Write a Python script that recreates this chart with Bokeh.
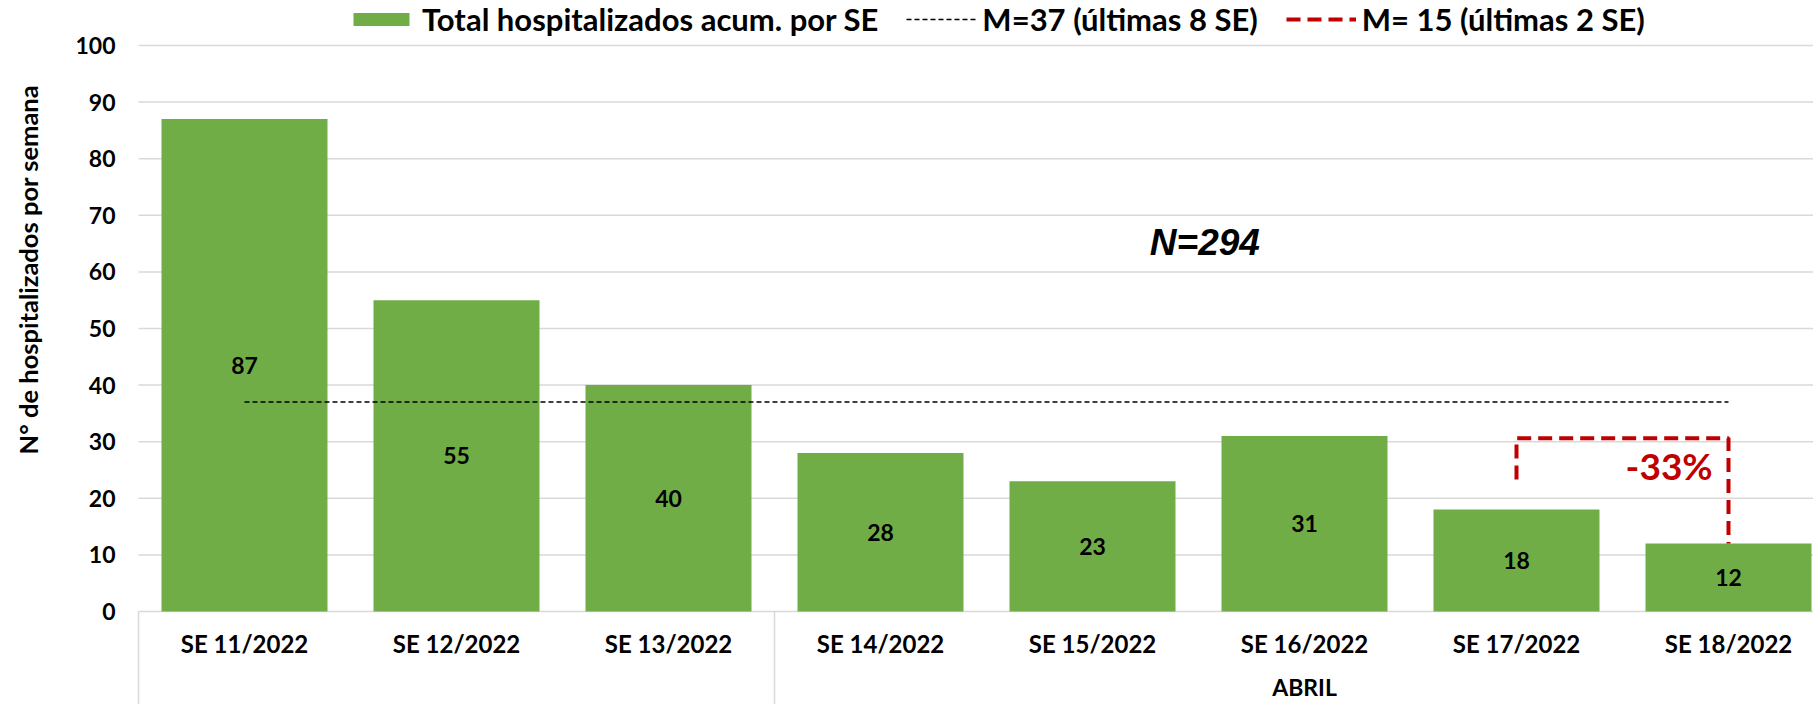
import math
from bokeh.plotting import figure
from bokeh.models import ColumnDataSource, Range1d, Legend, LegendItem
from bokeh.core.properties import value
from bokeh.embed import file_html
from bokeh.resources import INLINE

# ---- data ----
categories = ["SE 11/2022", "SE 12/2022", "SE 13/2022", "SE 14/2022",
              "SE 15/2022", "SE 16/2022", "SE 17/2022", "SE 18/2022"]
hospitalizados = [87, 55, 40, 28, 23, 31, 18, 12]
mean_8 = 37
mean_2 = 15
total_n = 294
change_pct = -33
month_labels = ["", "ABRIL"]
month_start = [0, 3]
month_end = [3, 8]
y_ticks = list(range(0, 101, 10))
y_title = "N° de hospitalizados por semana"

FONT = "Lato"
GREEN = "#70ad47"
RED = "#c00000"
GRID = "#d9d9d9"

W, H = 1813, 704
FRAME_LEFT_PX = 138      # where the value area starts
ZERO_PX = 611            # pixel row of value 0
px_per_cat = 212.0
px_per_unit = 5.66
x_start = -FRAME_LEFT_PX / px_per_cat
x_end = (W - FRAME_LEFT_PX) / px_per_cat
y_start = -(H - ZERO_PX) / px_per_unit
y_end = ZERO_PX / px_per_unit

p = figure(width=W, height=H, output_backend="svg", toolbar_location=None,
           x_range=Range1d(x_start, x_end), y_range=Range1d(y_start, y_end),
           x_axis_location=None, y_axis_location=None,
           min_border=0, min_border_left=0, min_border_right=0,
           min_border_top=0, min_border_bottom=0,
           background_fill_color="white", border_fill_color="white")
p.outline_line_color = None
p.grid.visible = False

# gridlines (value axis)
p.segment(x0=[0] * len(y_ticks), y0=y_ticks, x1=[x_end] * len(y_ticks), y1=y_ticks,
          line_color=GRID, line_width=1.5)
# y tick labels
p.text(x=[-23 / px_per_cat] * len(y_ticks), y=y_ticks, text=[str(t) for t in y_ticks],
       text_align="right", text_baseline="middle", text_font=value(FONT),
       text_font_style="bold", text_font_size="23px", text_color="black")
# y title
p.text(x=[-111 / px_per_cat], y=[60.4], text=[y_title], angle=math.pi / 2,
       text_align="center", text_baseline="middle", text_font=value(FONT),
       text_font_style="bold", text_font_size="25.5px", text_color="black")

xs = [i + 0.5 for i in range(len(categories))]
src = ColumnDataSource(dict(x=xs, top=hospitalizados,
                            mid=[v / 2 for v in hospitalizados],
                            lab=[str(v) for v in hospitalizados],
                            cat=categories,
                            caty=[-5.6] * len(categories)))

bars = p.vbar(x="x", top="top", bottom=0, width=0.783, source=src,
              fill_color=GREEN, line_color=None)

p.text(x="x", y="mid", text="lab", source=src, text_align="center",
       text_baseline="middle", text_font=value(FONT), text_font_style="bold",
       text_font_size="23px", text_color="black")

# category labels below the baseline
p.text(x="x", y="caty", text="cat", source=src, text_align="center",
       text_baseline="middle", text_font=value(FONT), text_font_style="bold",
       text_font_size="24px", text_color="black")

# month group separators and labels
sep_x = sorted(set(month_start + month_end))
p.segment(x0=sep_x, y0=[0] * len(sep_x), x1=sep_x, y1=[y_start] * len(sep_x),
          line_color=GRID, line_width=1.5)
p.text(x=[(a + b) / 2 for a, b in zip(month_start, month_end)],
       y=[-13.4] * len(month_labels), text=month_labels, text_align="center",
       text_baseline="middle", text_font=value(FONT), text_font_style="bold",
       text_font_size="23px", text_color="black")

# mean line over 8 weeks
mean_line = p.line(x=[xs[0], xs[-1]], y=[mean_8, mean_8], line_color="black",
                   line_width=1.5, line_dash="5 3")

# bracket between the last two weeks
bracket_top = 30.6
bracket_start = 23.3
bracket = p.line(x=[xs[-2], xs[-2], xs[-1], xs[-1]],
                 y=[bracket_start, bracket_top, bracket_top, hospitalizados[-1]],
                 line_color=RED, line_width=4, line_dash="14 7")

p.text(x=[7.22], y=[25.8], text=[f"{change_pct}%"], text_align="center",
       text_baseline="middle", text_font=value(FONT), text_font_style="bold",
       text_font_size="37px", text_color=RED)

p.text(x=[5.03], y=[65.2], text=[f"N={total_n}"], text_align="center",
       text_baseline="middle", text_font=value("Liberation Sans"),
       text_font_style="bold italic", text_font_size="37px", text_color="black")

legend = Legend(items=[
    LegendItem(label="Total hospitalizados acum. por SE", renderers=[bars]),
    LegendItem(label=f"M={mean_8} (últimas 8 SE)", renderers=[mean_line]),
    LegendItem(label=f"M= {mean_2} (últimas 2 SE)", renderers=[bracket]),
], orientation="horizontal", location=(346, H - 38),
    glyph_width=70, glyph_height=16, label_standoff=6, spacing=28,
    padding=0, margin=0, border_line_color=None, background_fill_alpha=0,
    label_text_font=FONT, label_text_font_style="bold",
    label_text_font_size="31px", label_text_color="black")
p.add_layout(legend, "center")

open("out.html", "w").write(file_html(p, INLINE))
